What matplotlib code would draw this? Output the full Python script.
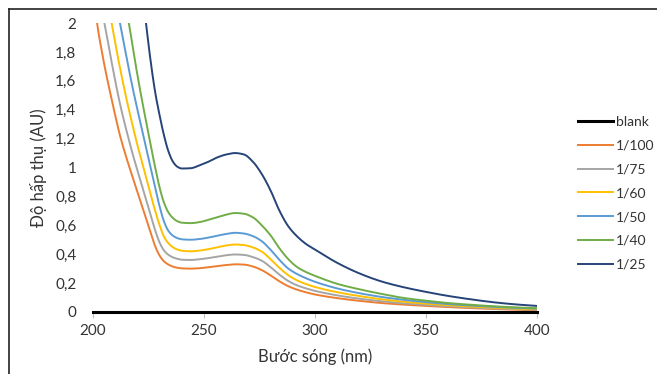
import numpy as np
import matplotlib
matplotlib.use("Agg")
import matplotlib.pyplot as plt
from matplotlib.lines import Line2D
from matplotlib.ticker import FuncFormatter

plt.rcParams['font.family'] = ['Lato', 'DejaVu Sans']

nan = np.nan

# wavelength grid (nm)
wl = [200, 202, 204, 206, 208, 210, 212, 214, 216, 218, 220, 222, 224, 226, 228, 230,
      232, 234, 236, 238, 240,
      244, 248, 252, 256, 260, 264, 268, 272, 276, 280, 284, 288, 292, 296, 300,
      310, 320, 330, 340, 350, 360, 370, 380, 390, 400]

blank = [0.0] * len(wl)

d100 = [2.25, 1.98, 1.80, 1.64, 1.50, 1.36, 1.23, 1.12, 1.02, 0.925, 0.83, 0.735, 0.64, 0.545, 0.455, 0.39,
        0.35, 0.328, 0.314, 0.306, 0.302,
        0.300, 0.303, 0.31, 0.318, 0.325, 0.33, 0.328, 0.315, 0.29, 0.253, 0.212, 0.178, 0.154, 0.136, 0.121,
        0.096, 0.077, 0.062, 0.051, 0.042, 0.034, 0.027, 0.021, 0.016, 0.012]

d75 = [nan, nan, 2.09, 1.93, 1.76, 1.60, 1.45, 1.32, 1.20, 1.085, 0.98, 0.875, 0.77, 0.665, 0.565, 0.48,
       0.425, 0.395, 0.378, 0.368, 0.362,
       0.36, 0.365, 0.373, 0.383, 0.393, 0.398, 0.395, 0.38, 0.355, 0.31, 0.258, 0.214, 0.184, 0.163, 0.146,
       0.115, 0.092, 0.074, 0.06, 0.049, 0.04, 0.032, 0.025, 0.02, 0.016]

d60 = [nan, nan, nan, 2.18, 2.03, 1.86, 1.70, 1.55, 1.41, 1.28, 1.155, 1.04, 0.925, 0.81, 0.70, 0.60,
       0.52, 0.475, 0.448, 0.432, 0.424,
       0.42, 0.425, 0.435, 0.448, 0.46, 0.467, 0.463, 0.447, 0.418, 0.365, 0.305, 0.254, 0.218, 0.193, 0.173,
       0.137, 0.11, 0.088, 0.071, 0.058, 0.047, 0.038, 0.03, 0.024, 0.019]

d50 = [nan, nan, nan, nan, nan, 2.15, 2.01, 1.85, 1.69, 1.54, 1.40, 1.265, 1.13, 0.995, 0.86, 0.73,
       0.625, 0.56, 0.528, 0.511, 0.503,
       0.50, 0.505, 0.515, 0.528, 0.54, 0.548, 0.543, 0.525, 0.49, 0.43, 0.36, 0.30, 0.262, 0.233, 0.209,
       0.163, 0.13, 0.104, 0.084, 0.068, 0.055, 0.045, 0.036, 0.029, 0.023]

d40 = [nan, nan, nan, nan, nan, nan, nan, 2.15, 2.01, 1.82, 1.64, 1.47, 1.31, 1.15, 1.00, 0.86,
       0.755, 0.688, 0.65, 0.628, 0.618,
       0.615, 0.622, 0.638, 0.656, 0.674, 0.685, 0.68, 0.655, 0.60, 0.53, 0.44, 0.365, 0.31, 0.276, 0.25,
       0.195, 0.157, 0.125, 0.097, 0.078, 0.062, 0.05, 0.04, 0.032, 0.026]

d25 = [nan, nan, nan, nan, nan, nan, nan, nan, nan, nan, nan, 2.25, 1.98, 1.73, 1.52, 1.36,
       1.22, 1.11, 1.04, 1.005, 0.993,
       0.995, 1.015, 1.04, 1.07, 1.09, 1.10, 1.09, 1.04, 0.955, 0.84, 0.70, 0.592, 0.522, 0.47, 0.432,
       0.34, 0.267, 0.211, 0.171, 0.139, 0.111, 0.088, 0.068, 0.053, 0.042]

labels = ['1/100', '1/75', '1/60', '1/50', '1/40', '1/25']
series = [d100, d75, d60, d50, d40, d25]
colors = ['#ED7D31', '#A5A5A5', '#FFC000', '#5B9BD5', '#70AD47', '#264478']


def smooth(xs, ys, n=600):
    # monotone cubic (pchip) through the read points, like Excel's smoothed line
    x = np.array(xs, float)
    y = np.array(ys, float)
    ok = ~np.isnan(y)
    x, y = x[ok], y[ok]
    h = np.diff(x)
    d = np.diff(y) / h
    m = np.zeros_like(y)
    m[0], m[-1] = d[0], d[-1]
    for k in range(1, len(x) - 1):
        if d[k - 1] * d[k] > 0:
            w1 = 2 * h[k] + h[k - 1]
            w2 = h[k] + 2 * h[k - 1]
            m[k] = (w1 + w2) / (w1 / d[k - 1] + w2 / d[k])
    xf = np.linspace(x[0], x[-1], n)
    i = np.clip(np.searchsorted(x, xf) - 1, 0, len(x) - 2)
    t = (xf - x[i]) / h[i]
    h00 = 2 * t**3 - 3 * t**2 + 1
    h10 = t**3 - 2 * t**2 + t
    h01 = -2 * t**3 + 3 * t**2
    h11 = t**3 - t**2
    yf = h00 * y[i] + h10 * h[i] * m[i] + h01 * y[i + 1] + h11 * h[i] * m[i + 1]
    return xf, yf


fig = plt.figure(figsize=(6.57, 3.74), dpi=100)
ax = fig.add_axes([0.1416, 0.1658, 0.6758, 0.7727])

ax.plot(wl, blank, color='black', lw=2.2, label='blank', clip_on=False, zorder=5)
for ys, c, lab in zip(series, colors, labels):
    xf, yf = smooth(wl, ys)
    ax.plot(xf, yf, color=c, lw=1.4, label=lab)

ax.set_xlim(200, 400)
ax.set_ylim(0, 2)
ax.set_xticks([200, 250, 300, 350, 400])
ax.set_yticks(np.arange(0, 2.01, 0.2))
ax.yaxis.set_major_formatter(FuncFormatter(lambda v, p: ('%g' % round(v, 1)).replace('.', ',')))

for s in ['top', 'right', 'left']:
    ax.spines[s].set_visible(False)
ax.spines['bottom'].set_color('#BFBFBF')
ax.tick_params(axis='x', length=4, color='#BFBFBF', pad=5, labelsize=11, labelcolor='#333333')
ax.tick_params(axis='y', length=0, pad=12, labelsize=11, labelcolor='#333333')

ax.set_xlabel('Bước sóng (nm)', fontsize=12, color='#333333', labelpad=7)
ax.set_ylabel('Độ hấp thụ (AU)', fontsize=12, color='#333333', labelpad=6)

fig.legend(loc='upper left', bbox_to_anchor=(0.880, 0.69), frameon=False, fontsize=10,
           handlelength=2.5, handletextpad=0.2, labelspacing=0.85, labelcolor='#333333',
           borderaxespad=0, borderpad=0)

# outer frame (left and top edges of the cropped chart area)
fig.add_artist(Line2D([9 / 657, 9 / 657], [0, 1 - 9 / 374], transform=fig.transFigure, color='#222222', lw=1.2))
fig.add_artist(Line2D([9 / 657, 1], [1 - 9 / 374, 1 - 9 / 374], transform=fig.transFigure, color='#222222', lw=1.2))

fig.savefig('out.png', dpi=100)
